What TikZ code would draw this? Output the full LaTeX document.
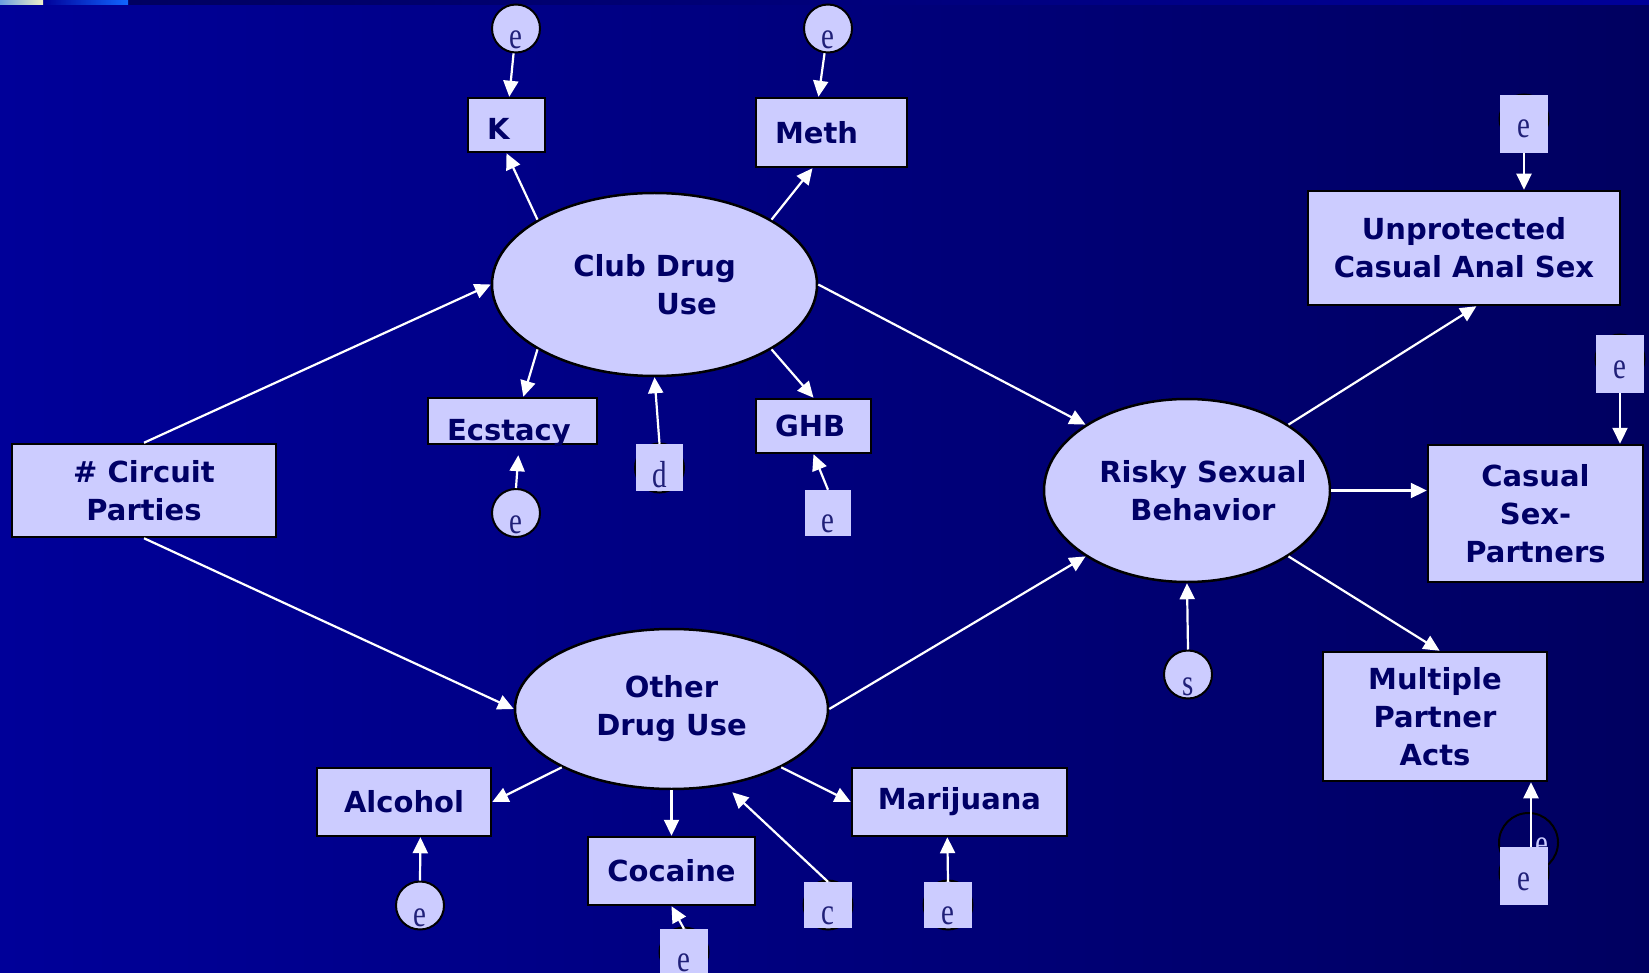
\documentclass[tikz,border=0pt]{standalone}
\usepackage{fontspec}
\setmainfont{DejaVu Sans}
\newfontfamily\lettfont{Liberation Serif}
\usetikzlibrary{
    arrows.meta,
    shapes.geometric,
    calc,
    positioning
}
\definecolor{bgleft}{RGB}{0,0,153}
\definecolor{bgright}{RGB}{0,0,96}
\definecolor{lav}{RGB}{204,204,255}
\definecolor{navytext}{RGB}{0,0,102}
\definecolor{lettcol}{RGB}{32,32,120}
\newcommand{\lett}[1]{\scalebox{1}[1.3]{#1}}

\begin{document}
\begin{tikzpicture}[x=1pt, y=-1pt,
    box/.style={draw=black, line width=2.5pt, fill=lav, inner sep=0pt, align=center,
        font=\bfseries\fontsize{29}{38}\selectfont, text=navytext},
    lbox/.style={box, align=left, inner xsep=19pt},
    oval/.style={ellipse, draw=black, line width=2.5pt, fill=lav, inner sep=-30pt, align=center,
        font=\bfseries\fontsize{29}{38}\selectfont, text=navytext},
    ecirc/.style={circle, draw=black, line width=2pt, fill=lav, minimum size=48pt, inner sep=0pt,
        font=\lettfont\fontsize{29}{30}\selectfont, text=lettcol, text height=41pt, text depth=0pt},
    hcirc/.style={circle, draw=black, line width=2pt, fill=lav, minimum size=49pt, inner sep=0pt},
    esq/.style={fill=lav, inner sep=0pt, minimum width=48pt,
        font=\lettfont\fontsize{29}{30}\selectfont, text=lettcol},
    arr/.style={draw=white, line width=2.2pt, -{Triangle[length=16pt,width=15pt]}}
]
% background
\useasboundingbox (0,0) rectangle (1649,973);
\shade[left color=bgleft, right color=bgright] (0,0) rectangle (1649,973);
\shade[left color=bgright, right color=bgleft] (128,0) rectangle (1649,5);
\shade[left color=bgleft, right color={rgb,255:red,17;green,102;blue,255}] (43,0) rectangle (128,5);
\shade[left color={rgb,255:red,107;green,158;blue,224}, right color={rgb,255:red,240;green,240;blue,200}] (0,0) rectangle (43,5);

% club drugs
\node[ecirc] (eK) at (516,28.5) {\lett{e}};
\node[ecirc] (eM) at (828,28.5) {\lett{e}};
\node[lbox, text width=39pt, minimum height=54pt, text height=42pt, text depth=12pt] (K) at (506.5,125) {K};
\node[lbox, text width=113pt, minimum height=69pt] (meth) at (831.5,132.5) {Meth};
\node[oval, minimum width=325pt, minimum height=183pt] (club) at (654.5,284.5) {Club Drug\\\hspace*{64pt}Use};
\node[lbox, text width=131pt, minimum height=46pt, text height=42pt, text depth=4pt] (ecs) at (512.5,421) {Ecstacy};
\node[lbox, text width=77pt, minimum height=54pt] (ghb) at (813.5,426) {GHB};
\node[ecirc] (eE) at (516,513) {\lett{e}};
\node[hcirc] (dC) at (659.5,468) {};
\node[esq, minimum width=47pt, minimum height=47pt, text height=43pt, text depth=4pt] (dbox) at (659.5,467.5) {\lett{d}};
\node[esq, minimum width=46pt, minimum height=46pt, text height=42pt, text depth=4pt] (eGb) at (828,513) {\lett{e}};

% circuit parties
\node[box, minimum width=264pt, minimum height=93pt] (circ) at (144,490.5) {\# Circuit\\Parties};

% other drugs
\node[oval, minimum width=313pt, minimum height=160pt] (other) at (671.5,709) {Other\\Drug Use};
\node[box, minimum width=174pt, minimum height=68pt] (alc) at (404,802) {Alcohol};
\node[ecirc] (eA) at (420,905.5) {\lett{e}};
\node[box, minimum width=167pt, minimum height=68pt] (coc) at (671.5,871) {Cocaine};
\node[hcirc] (eCC) at (684,952) {};
\node[esq, minimum height=46pt, text height=42pt, text depth=4pt] (eC) at (684,952) {\lett{e}};
\node[hcirc] (cC) at (828,905) {};
\node[esq, minimum height=46pt, text height=42pt, text depth=4pt] (cbox) at (828,905) {\lett{c}};
\node[box, minimum width=215pt, minimum height=68pt] (mar) at (959.5,802) {Marijuana};
\node[hcirc] (eMjC) at (948,905) {};
\node[esq, minimum height=46pt, text height=42pt, text depth=4pt] (eMj) at (948,905) {\lett{e}};

% risky sexual behavior
\node[oval, minimum width=286pt, minimum height=183pt] (risky) at (1187,490.5)
    {\hspace*{32pt}Risky Sexual\\\hspace*{32pt}Behavior};
\node[ecirc] (sC) at (1188,674.5) {\lett{s}};
\node[box, minimum width=312pt, minimum height=114pt] (unp) at (1464,248) {Unprotected\\Casual Anal Sex};
\node[hcirc] (eUC) at (1524,119) {};
\node[esq, minimum height=58pt, text height=43pt, text depth=15pt] (eU) at (1524,124) {\lett{e}};
\node[box, minimum width=215pt, minimum height=137pt] (cas) at (1535.5,513.5) {Casual\\Sex-\\Partners};
\node[hcirc] (eCaC) at (1620,359) {};
\node[esq, minimum height=58pt, text height=43pt, text depth=15pt] (eCa) at (1620,364) {\lett{e}};
\node[box, minimum width=224pt, minimum height=129pt] (mul) at (1435,716.5) {Multiple\\Partner\\Acts};
\node[circle, draw=black, line width=2pt, minimum size=59pt, inner sep=0pt] (eMuO) at (1528.5,842.5) {};
\node[anchor=base, font=\lettfont\fontsize{29}{30}\selectfont, text=lav] (eMuT) at (1542,855) {\lett{e}};
\node[hcirc] (eMuC) at (1524,873) {};
\node[esq, minimum height=58pt, text height=43pt, text depth=15pt] (eMu) at (1524,876) {\lett{e}};

% paths
\draw[arr] (eK) -- (K);
\draw[arr] (eM) -- (meth.110);
\draw[arr] (club.151) -- (K.south);
\draw[arr] (club.29) -- (meth.242);
\draw[arr] (club.209) -- (ecs.66);
\draw[arr] (club.331) -- (ghb.north);
\draw[arr] (dbox.north) -- (club.south);
\draw[arr, shorten >=10pt] (eE.north) -- (ecs.-75);
\draw[arr] (eGb.north) -- (ghb.south);
\draw[arr] (circ.north) -- (club.west);
\draw[arr] (circ.south) -- (other.west);
\draw[arr] (club.east) -- (risky.147);
\draw[arr] (other.east) -- (risky.213);
\draw[arr] (other.208) -- (alc.east);
\draw[arr] (other.south) -- (coc.north);
\draw[arr] (other.332) -- (mar.west);
\draw[arr, shorten >=10pt] (cbox.north) -- (other.305);
\draw[arr] (eA.north) -- (alc.-65);
\draw[arr] (eC.north) -- (coc.south);
\draw[arr] (eMj.north) -- (mar.251);
\draw[arr] (sC.north) -- (risky.south);
\draw[arr] (risky.33) -- (unp.-78);
\draw[arr] (risky.east) -- (risky.east -| cas.west);
\draw[arr] (risky.327) -- (mul.86);
\draw[arr] (eU.south) -- (eU.south |- unp.north);
\draw[arr] (eCa.south) -- (eCa.south |- cas.north);
\draw[arr] ([xshift=7pt]eMu.north) -- ([xshift=7pt]eMu.north |- mul.south);
\end{tikzpicture}
\end{document}
